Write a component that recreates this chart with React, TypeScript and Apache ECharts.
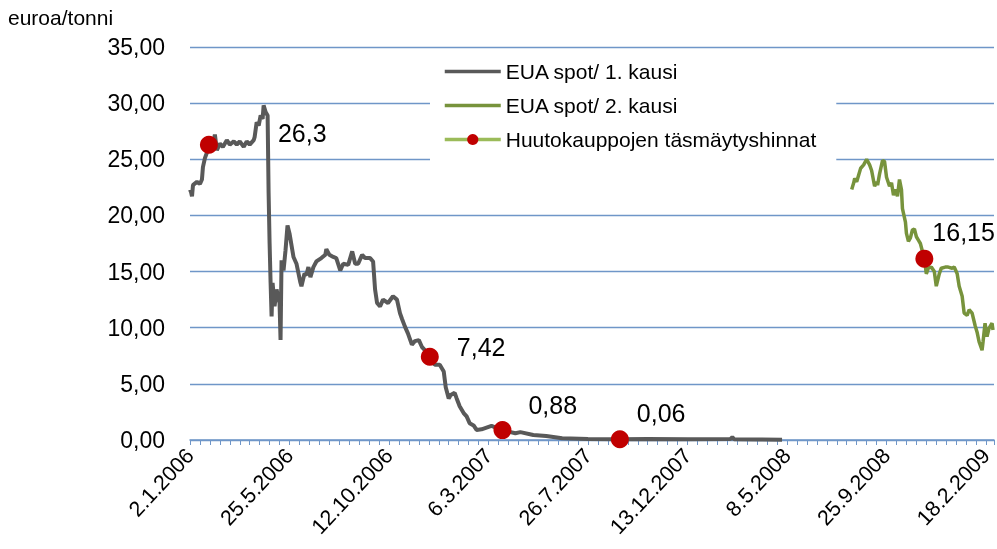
import React, { useEffect, useRef } from "react";
import * as echarts from "echarts";

// x = trading-day index from 2.1.2006
const tickLabels = ["2.1.2006", "25.5.2006", "12.10.2006", "6.3.2007", "26.7.2007", "13.12.2007", "8.5.2008", "25.9.2008", "18.2.2009"];
const yTicks = [0, 5, 10, 15, 20, 25, 30, 35];

const period1: [number, number][] = [
  [0, 22.3], [1, 22.1], [2, 21.7], [3, 22.7], [7, 23.0], [10, 22.8], [12, 23.2], [13, 24.3], [15, 25.1], [17, 25.6],
  [19, 26.3], [22, 25.8], [25, 27.2], [27, 25.8], [30, 26.4], [33, 26.1], [37, 26.7], [40, 26.3], [44, 26.6], [47, 26.3],
  [50, 26.6], [54, 26.1], [57, 26.6], [60, 26.3], [64, 26.7], [65, 27.0], [67, 28.3], [69, 28.0], [71, 28.9], [73, 28.6],
  [74, 29.8], [76, 29.2], [78, 28.9], [79, 22.0], [80, 17.5], [81, 14.0], [82, 11.0], [83, 14.0], [85, 11.9], [87, 13.4],
  [90, 12.2], [91, 8.9], [92, 16.0], [94, 15.1], [96, 16.9], [98, 19.1], [100, 18.4], [104, 16.3], [107, 15.7], [111, 14.0],
  [112, 13.7], [115, 14.8], [117, 14.7], [119, 15.4], [121, 14.5], [124, 15.4], [127, 15.9], [132, 16.2], [136, 16.5], [137, 17.0],
  [140, 16.5], [144, 16.3], [147, 16.2], [151, 15.1], [154, 15.7], [159, 15.6], [163, 16.8], [166, 15.7], [169, 15.7], [173, 16.5],
  [176, 16.2], [181, 16.2], [184, 15.9], [186, 13.4], [188, 12.2], [191, 11.9], [194, 12.5], [199, 12.2], [204, 12.8], [208, 12.5],
  [211, 11.3], [213, 10.8], [216, 10.1], [219, 9.5], [223, 8.5], [226, 8.8], [230, 8.9], [233, 8.3], [236, 8.0], [241, 7.42],
  [246, 6.7], [251, 6.7], [255, 6.1], [257, 4.7], [260, 3.7], [262, 4.0], [266, 4.2], [268, 3.7], [271, 3.0], [275, 2.4],
  [278, 2.1], [281, 1.5], [285, 1.3], [288, 0.9], [293, 0.95], [298, 1.1], [303, 1.25], [314, 0.88], [320, 0.75], [327, 0.6],
  [332, 0.7], [345, 0.45], [358, 0.35], [374, 0.15], [400, 0.1], [432, 0.06], [460, 0.08], [500, 0.07], [543, 0.08], [545, 0.25],
  [547, 0.06], [570, 0.04], [595, 0.03],
];

const period2: [number, number][] = [
  [665, 22.3], [667, 22.9], [668, 23.3], [670, 23.0], [672, 23.6], [674, 24.2], [677, 24.5], [680, 25.0], [683, 24.5], [685, 24.0],
  [688, 22.6], [690, 23.0], [691, 22.7], [693, 23.7], [696, 24.9], [698, 24.8], [700, 23.4], [703, 22.6], [705, 22.9], [707, 21.8],
  [709, 22.3], [711, 21.7], [713, 23.2], [715, 22.3], [716, 20.6], [719, 19.4], [720, 18.4], [722, 17.7], [724, 18.0], [726, 18.7],
  [728, 18.8], [730, 18.1], [732, 17.8], [734, 17.5], [738, 16.15], [740, 14.8], [742, 15.3], [745, 15.4], [748, 15.0], [750, 13.7],
  [753, 14.8], [755, 15.3], [759, 15.4], [762, 15.4], [766, 15.3], [768, 15.4], [771, 14.8], [773, 13.7], [776, 12.8], [778, 11.3],
  [781, 11.1], [783, 11.6], [786, 11.3], [789, 10.2], [791, 9.6], [793, 8.75], [796, 8.0], [797, 8.75], [799, 10.4], [801, 9.2],
  [803, 9.95], [806, 10.4], [807, 9.8],
];

const auctionIdx = [19, 241, 314, 432, 738];
const auctionPrices = [26.3, 7.42, 0.88, 0.06, 16.15];

const labelOffsets: [number, number][] = [[55, -12], [13, -10], [12, -25], [3, -26], [-6, -27]];

const FONT = "'Liberation Sans', Arial, sans-serif";
const GRID_COLOR = "#6f96c8";

const fi = (v: number) => String(v).replace(".", ",");

export default function App() {
  const ref = useRef<HTMLDivElement>(null);
  useEffect(() => {
    if (!ref.current) return;
    const chart = echarts.init(ref.current, null, { renderer: "svg" });
    chart.setOption({
      animation: false,
      textStyle: { fontFamily: FONT, color: "#000" },
      title: {
        text: "euroa/tonni",
        left: 8,
        top: 7,
        padding: 0,
        textStyle: { fontFamily: FONT, fontSize: 21, fontWeight: "normal", color: "#000" },
      },
      grid: { left: 190, right: 3, top: 47, bottom: 109, containLabel: false, outerBoundsMode: "none" },
      legend: {
        orient: "vertical",
        left: 430,
        top: 50,
        padding: [11, 20, 11, 13],
        backgroundColor: "#ffffff",
        itemWidth: 56,
        itemHeight: 14,
        itemGap: 13,
        textStyle: { fontFamily: FONT, fontSize: 21, color: "#000" },
        data: [
          {
            name: "EUA spot/ 1. kausi",
            itemStyle: { opacity: 0 },
            lineStyle: { color: "#595959", width: 3.5, opacity: 1 },
          },
          {
            name: "EUA spot/ 2. kausi",
            itemStyle: { opacity: 0 },
            lineStyle: { color: "#77933c", width: 3.5, opacity: 1 },
          },
          {
            name: "Huutokauppojen täsmäytyshinnat",
            lineStyle: { color: "#9bbb59", width: 3.5, opacity: 1 },
          },
        ],
      },
      xAxis: {
        type: "value",
        min: 0,
        max: 808,
        interval: 100,
        axisLine: { show: true, lineStyle: { color: GRID_COLOR, width: 1.5 } },
        axisTick: { show: true, length: 5, inside: false, lineStyle: { color: GRID_COLOR, width: 1 } },
        minorTick: { show: true, splitNumber: 10, length: 5, lineStyle: { color: GRID_COLOR, width: 1 } },
        splitLine: { show: false },
        axisLabel: {
          rotate: 47,
          fontSize: 21.5,
          fontFamily: FONT,
          color: "#000",
          margin: 12,
          showMaxLabel: false,
          formatter: (v: number) => (v % 100 === 0 ? tickLabels[v / 100] ?? "" : ""),
        },
      },
      yAxis: {
        type: "value",
        min: 0,
        max: 35,
        interval: 5,
        axisLine: { show: false },
        axisTick: { show: false },
        splitLine: { show: true, lineStyle: { color: GRID_COLOR, width: 1.3 } },
        axisLabel: {
          fontSize: 23,
          fontFamily: FONT,
          color: "#000",
          margin: 25,
          formatter: (v: number) => (yTicks.includes(v) ? v.toFixed(2).replace(".", ",") : ""),
        },
      },
      series: [
        {
          name: "EUA spot/ 1. kausi",
          type: "line",
          symbol: "none",
          data: period1,
          lineStyle: { color: "#595959", width: 4 },
          itemStyle: { color: "#595959" },
          z: 3,
        },
        {
          name: "EUA spot/ 2. kausi",
          type: "line",
          symbol: "none",
          data: period2,
          lineStyle: { color: "#77933c", width: 3.5 },
          itemStyle: { color: "#77933c" },
          z: 3,
        },
        {
          name: "Huutokauppojen täsmäytyshinnat",
          type: "line",
          symbol: "circle",
          symbolSize: 18,
          showSymbol: true,
          lineStyle: { width: 0, opacity: 0, color: "#9bbb59" },
          itemStyle: { color: "#c00000" },
          z: 5,
          data: auctionIdx.map((x, i) => ({
            value: [x, auctionPrices[i]],
            label: {
              show: true,
              position: "right",
              distance: 5,
              offset: labelOffsets[i],
              formatter: () => fi(auctionPrices[i]),
              fontSize: 25,
              fontFamily: FONT,
              color: "#000",
            },
          })),
        },
      ],
    });
    return () => chart.dispose();
  }, []);
  return <div ref={ref} style={{ position: "fixed", left: 0, top: 0, width: 997, height: 549 }} />;
}
